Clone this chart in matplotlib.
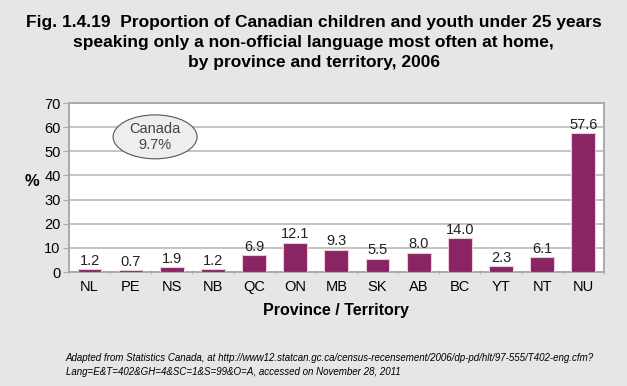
import matplotlib.pyplot as plt
from matplotlib.patches import Ellipse

regions = ['NL', 'PE', 'NS', 'NB', 'QC', 'ON', 'MB', 'SK', 'AB', 'BC', 'YT', 'NT', 'NU']
values = [1.2, 0.7, 1.9, 1.2, 6.9, 12.1, 9.3, 5.5, 8.0, 14.0, 2.3, 6.1, 57.6]
canada = 9.7

plt.rcParams['font.family'] = ['Liberation Sans', 'DejaVu Sans']
bg = '#e6e6e6'
bar_col = '#8b2463'

fig = plt.figure(figsize=(6.27, 3.86), dpi=100, facecolor=bg)
ax = fig.add_axes([0.110, 0.2953, 0.853, 0.4377])
ax.set_facecolor('white')

x = range(len(regions))
bars = ax.bar(x, values, width=0.58, color=bar_col, edgecolor='#f0c8dc', linewidth=0.8, zorder=3)
for xi, v in zip(x, values):
    ax.text(xi, v + 0.6, f'{v:.1f}', ha='center', va='bottom', fontsize=10.5, color='#222222', zorder=4)

ax.set_xlim(-0.5, len(regions) - 0.5)
ax.set_ylim(0, 70)
ax.set_yticks(range(0, 71, 10))
ax.grid(axis='y', color='#c4c4c4', linewidth=1.4, zorder=0)
ax.set_xticks(list(x))
ax.set_xticklabels(regions)
ax.set_xticks([i + 0.5 for i in range(-1, len(regions))], minor=True)
ax.tick_params(axis='x', which='major', length=0, labelsize=10.5, pad=6)
ax.tick_params(axis='x', which='minor', length=3, color='#aaaaaa', direction='inout')
ax.tick_params(axis='y', length=4, color='#aaaaaa', labelsize=10.5, pad=2)
for s in ax.spines.values():
    s.set_color('#aaaaaa')
    s.set_linewidth(1.4)

ax.set_ylabel('%', rotation=0, fontsize=12, fontweight='bold', labelpad=10)
ax.yaxis.set_label_coords(-0.07, 0.49)
ax.set_xlabel('Province / Territory', fontsize=11.5, fontweight='bold', labelpad=6)

ell = Ellipse((0.161, 0.80), 0.157, 0.26, transform=ax.transAxes,
              facecolor='#eeeeee', edgecolor='#555555', linewidth=0.8, zorder=5)
ax.add_patch(ell)
ax.text(0.161, 0.80, f'Canada\n{canada}%', transform=ax.transAxes, ha='center', va='center',
        fontsize=10.5, color='#444444', zorder=6, linespacing=1.2)

fig.text(0.5, 0.962, 'Fig. 1.4.19  Proportion of Canadian children and youth under 25 years\n'
         'speaking only a non-official language most often at home,\n'
         'by province and territory, 2006',
         ha='center', va='top', fontsize=12.5, fontweight='bold', linespacing=1.45)

fig.text(0.105, 0.054, 'Adapted from Statistics Canada, at http://www12.statcan.gc.ca/census-recensement/2006/dp-pd/hlt/97-555/T402-eng.cfm?\n'
         'Lang=E&T=402&GH=4&SC=1&S=99&O=A, accessed on November 28, 2011',
         ha='left', va='center', fontsize=7, style='italic', linespacing=1.45)

fig.savefig('out.png', dpi=100, facecolor=bg)
